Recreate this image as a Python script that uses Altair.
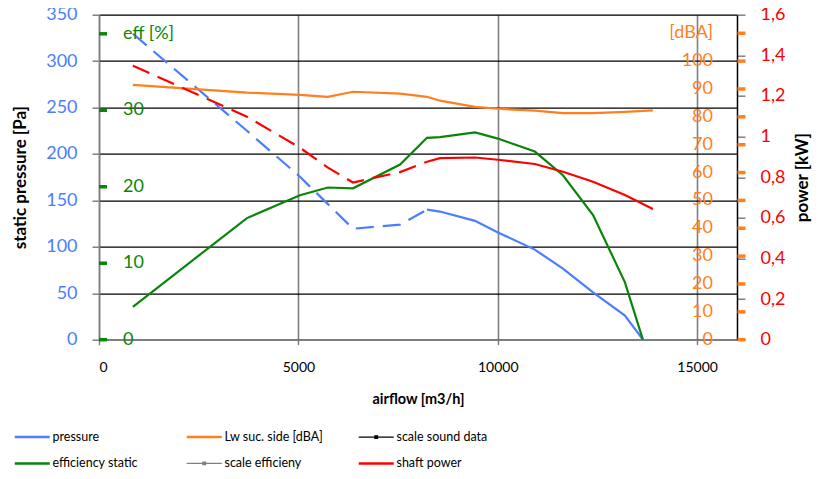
import altair as alt
import pandas as pd

FONT = "Lato"
BLUE = "#4A7DFF"
ORANGE = "#FF7F1E"
GREEN = "#0A850A"
RED = "#FF0000"
GRAY = "#808080"

# ---- data ----
flow_pe = [850, 3710, 5040, 5740, 6370, 7550, 8225, 8550, 9430, 10005, 10930, 11635, 12390, 13190, 13640]
pressure = [329.5, 225, 175.5, 146, 119.5, 124, 140, 138, 128, 115.5, 97, 76.5, 51, 26, 0]
efficiency = [4.3, 15.9, 18.9, 19.9, 19.8, 22.9, 26.4, 26.5, 27.1, 26.3, 24.6, 21.5, 16.3, 7.5, 0]

flow_ps = [850, 3710, 5040, 5740, 6370, 7550, 8225, 8550, 9430, 10005, 10930, 11635, 12390, 13190, 13890]
power = [1.349, 1.098, 0.945, 0.847, 0.774, 0.825, 0.876, 0.894, 0.897, 0.886, 0.865, 0.827, 0.778, 0.712, 0.643]
sound = [91.5, 88.7, 87.9, 87.2, 89.0, 88.3, 87.2, 85.8, 83.6, 82.9, 82.2, 81.3, 81.3, 81.8, 82.3]

DASH_END = 7  # first 7 points (up to 8225 m3/h) drawn dashed

eff_scale_vals = [0, 10, 20, 30, 40]
eff_scale_labels = ["0", "10", "20", "30", "eff [%]"]
sound_scale_vals = [0, 10, 20, 30, 40, 50, 60, 70, 80, 90, 100, 110]
sound_scale_labels = ["0", "10", "20", "30", "40", "50", "60", "70", "80", "90", "100", "[dBA]"]

series_names = ["pressure", "Lw suc. side [dBA]", "scale sound data",
                "efficiency static", "scale efficieny", "shaft power"]
series_colors = [BLUE, ORANGE, "black", GREEN, GRAY, RED]

# ---- tables ----
df_p = pd.DataFrame({"flow": flow_pe, "val": pressure, "series": "pressure"})
df_e = pd.DataFrame({"flow": flow_pe, "val": efficiency, "series": "efficiency static"})
df_w = pd.DataFrame({"flow": flow_ps, "val": power, "series": "shaft power"})
df_s = pd.DataFrame({"flow": flow_ps, "val": sound, "series": "Lw suc. side [dBA]"})
df_es = pd.DataFrame({"flow": [0] * len(eff_scale_vals), "val": eff_scale_vals, "lab": eff_scale_labels})
df_ss = pd.DataFrame({"flow": [16000] * len(sound_scale_vals), "val": sound_scale_vals, "lab": sound_scale_labels})

P_DOM = [0, 350]
E_DOM = [0, 42.5]
S_DOM = [0, 350 / 3]
W_DOM = [0, 1.6]

IS_SCALE = "(datum.value === 'scale sound data' || datum.value === 'scale efficieny')"
SYM_SHAPE = IS_SCALE + " ? 'M-1,0H1M-0.075,-0.07H0.075V0.07H-0.075Z' : 'stroke'"
SYM_FILL = ("datum.value === 'scale sound data' ? '" + ORANGE + "' : (datum.value === 'scale efficieny' ? '"
            + GREEN + "' : 'transparent')")
SYM_WIDTH = IS_SCALE + " ? 1.3 : 2.5"

color = alt.Color("series:N",
                  scale=alt.Scale(domain=series_names, range=series_colors),
                  legend=alt.Legend(title=None, orient="none", legendX=-73, legendY=416,
                                    direction="horizontal", columns=3, gridAlign="all",
                                    columnPadding=29, rowPadding=13.5,
                                    symbolType={"expr": SYM_SHAPE}, symbolSize=1225,
                                    symbolStrokeWidth={"expr": SYM_WIDTH},
                                    symbolFillColor={"expr": SYM_FILL},
                                    labelFont=FONT, labelFontSize=12.5, labelColor="black",
                                    labelOffset=14))

x_axis = alt.Axis(values=[0, 5000, 10000, 15000], format="d", title="airflow [m3/h]",
                  grid=True, gridColor=GRAY, gridWidth=1.6,
                  domainColor=GRAY, domainWidth=1.5, tickColor=GRAY, tickSize=5, tickWidth=1.5,
                  labelFont=FONT, labelFontSize=14, labelColor="black", labelPadding=16,
                  titleFont=FONT, titleFontSize=14.5, titleFontWeight="bold", titleColor="black",
                  titlePadding=18)
X = alt.X("flow:Q", scale=alt.Scale(domain=[0, 16000], nice=False), axis=x_axis)

p_axis = alt.Axis(values=list(range(0, 351, 50)), title="static pressure [Pa]",
                  grid=True, gridColor="black", gridWidth=1.3,
                  domainColor=GRAY, domainWidth=1.5, tickColor=GRAY, tickSize=7, tickWidth=1.5,
                  labelFont=FONT, labelFontSize=18, labelColor=BLUE, labelPadding=15,
                  titleFont=FONT, titleFontSize=17, titleFontWeight="bold", titleColor="black",
                  titlePadding=16, orient="left")

w_axis = alt.Axis(values=[0, 0.2, 0.4, 0.6, 0.8, 1.0, 1.2, 1.4, 1.6], orient="right",
                  labelExpr="replace(format(datum.value, '.1~f'), '.', ',')",
                  title="power [kW]", grid=False,
                  domainColor="black", domainWidth=1.5, tickColor=GRAY, tickSize=8, tickWidth=1.5,
                  labelFont=FONT, labelFontSize=18, labelColor=RED, labelPadding=15,
                  titleFont=FONT, titleFontSize=17, titleFontWeight="bold", titleColor="black",
                  titlePadding=27, titleAngle=270)

LW = 2.2
DASH = [18, 9]

p_dash = alt.Chart(df_p.iloc[:DASH_END]).mark_line(strokeWidth=LW, strokeDash=DASH).encode(
    x=X, y=alt.Y("val:Q", scale=alt.Scale(domain=P_DOM), axis=p_axis), color=color)
p_solid = alt.Chart(df_p.iloc[DASH_END - 1:]).mark_line(strokeWidth=LW).encode(
    x=X, y=alt.Y("val:Q", scale=alt.Scale(domain=P_DOM), axis=None), color=color)

e_line = alt.Chart(df_e).mark_line(strokeWidth=LW).encode(
    x=X, y=alt.Y("val:Q", scale=alt.Scale(domain=E_DOM), axis=None), color=color)
e_ticks = alt.Chart(df_es).mark_tick(orient="horizontal", size=8, thickness=3.5, xOffset=4,
                                     color=GREEN, opacity=1).encode(
    x=X, y=alt.Y("val:Q", scale=alt.Scale(domain=E_DOM), axis=None))
e_text = alt.Chart(df_es).mark_text(align="left", baseline="middle", dx=24, font=FONT,
                                    fontSize=18, color=GREEN).encode(
    x=X, y=alt.Y("val:Q", scale=alt.Scale(domain=E_DOM), axis=None), text="lab:N")

s_line = alt.Chart(df_s).mark_line(strokeWidth=LW).encode(
    x=X, y=alt.Y("val:Q", scale=alt.Scale(domain=S_DOM), axis=None), color=color)
s_ticks = alt.Chart(df_ss).mark_tick(orient="horizontal", size=8, thickness=3.5, xOffset=4.5,
                                     color=ORANGE, opacity=1).encode(
    x=X, y=alt.Y("val:Q", scale=alt.Scale(domain=S_DOM), axis=None))
s_text = alt.Chart(df_ss).mark_text(align="right", baseline="middle", dx=-24, font=FONT,
                                    fontSize=18, color=ORANGE).encode(
    x=X, y=alt.Y("val:Q", scale=alt.Scale(domain=S_DOM), axis=None), text="lab:N")

w_dash = alt.Chart(df_w.iloc[:DASH_END]).mark_line(strokeWidth=LW, strokeDash=DASH).encode(
    x=X, y=alt.Y("val:Q", scale=alt.Scale(domain=W_DOM), axis=w_axis), color=color)
w_solid = alt.Chart(df_w.iloc[DASH_END - 1:]).mark_line(strokeWidth=LW).encode(
    x=X, y=alt.Y("val:Q", scale=alt.Scale(domain=W_DOM), axis=None), color=color)

chart = alt.layer(
    p_dash, p_solid, e_line, e_ticks, e_text, s_line, s_ticks, s_text, w_dash, w_solid
).resolve_scale(y="independent").properties(
    width=638, height=325,
    autosize=alt.AutoSizeParams(type="none"),
    padding={"left": 91, "top": 6.7, "right": 85, "bottom": 131},
).configure_view(stroke=None).configure(font=FONT)

chart.save("out.html", embed_options={"renderer": "svg", "actions": False})
